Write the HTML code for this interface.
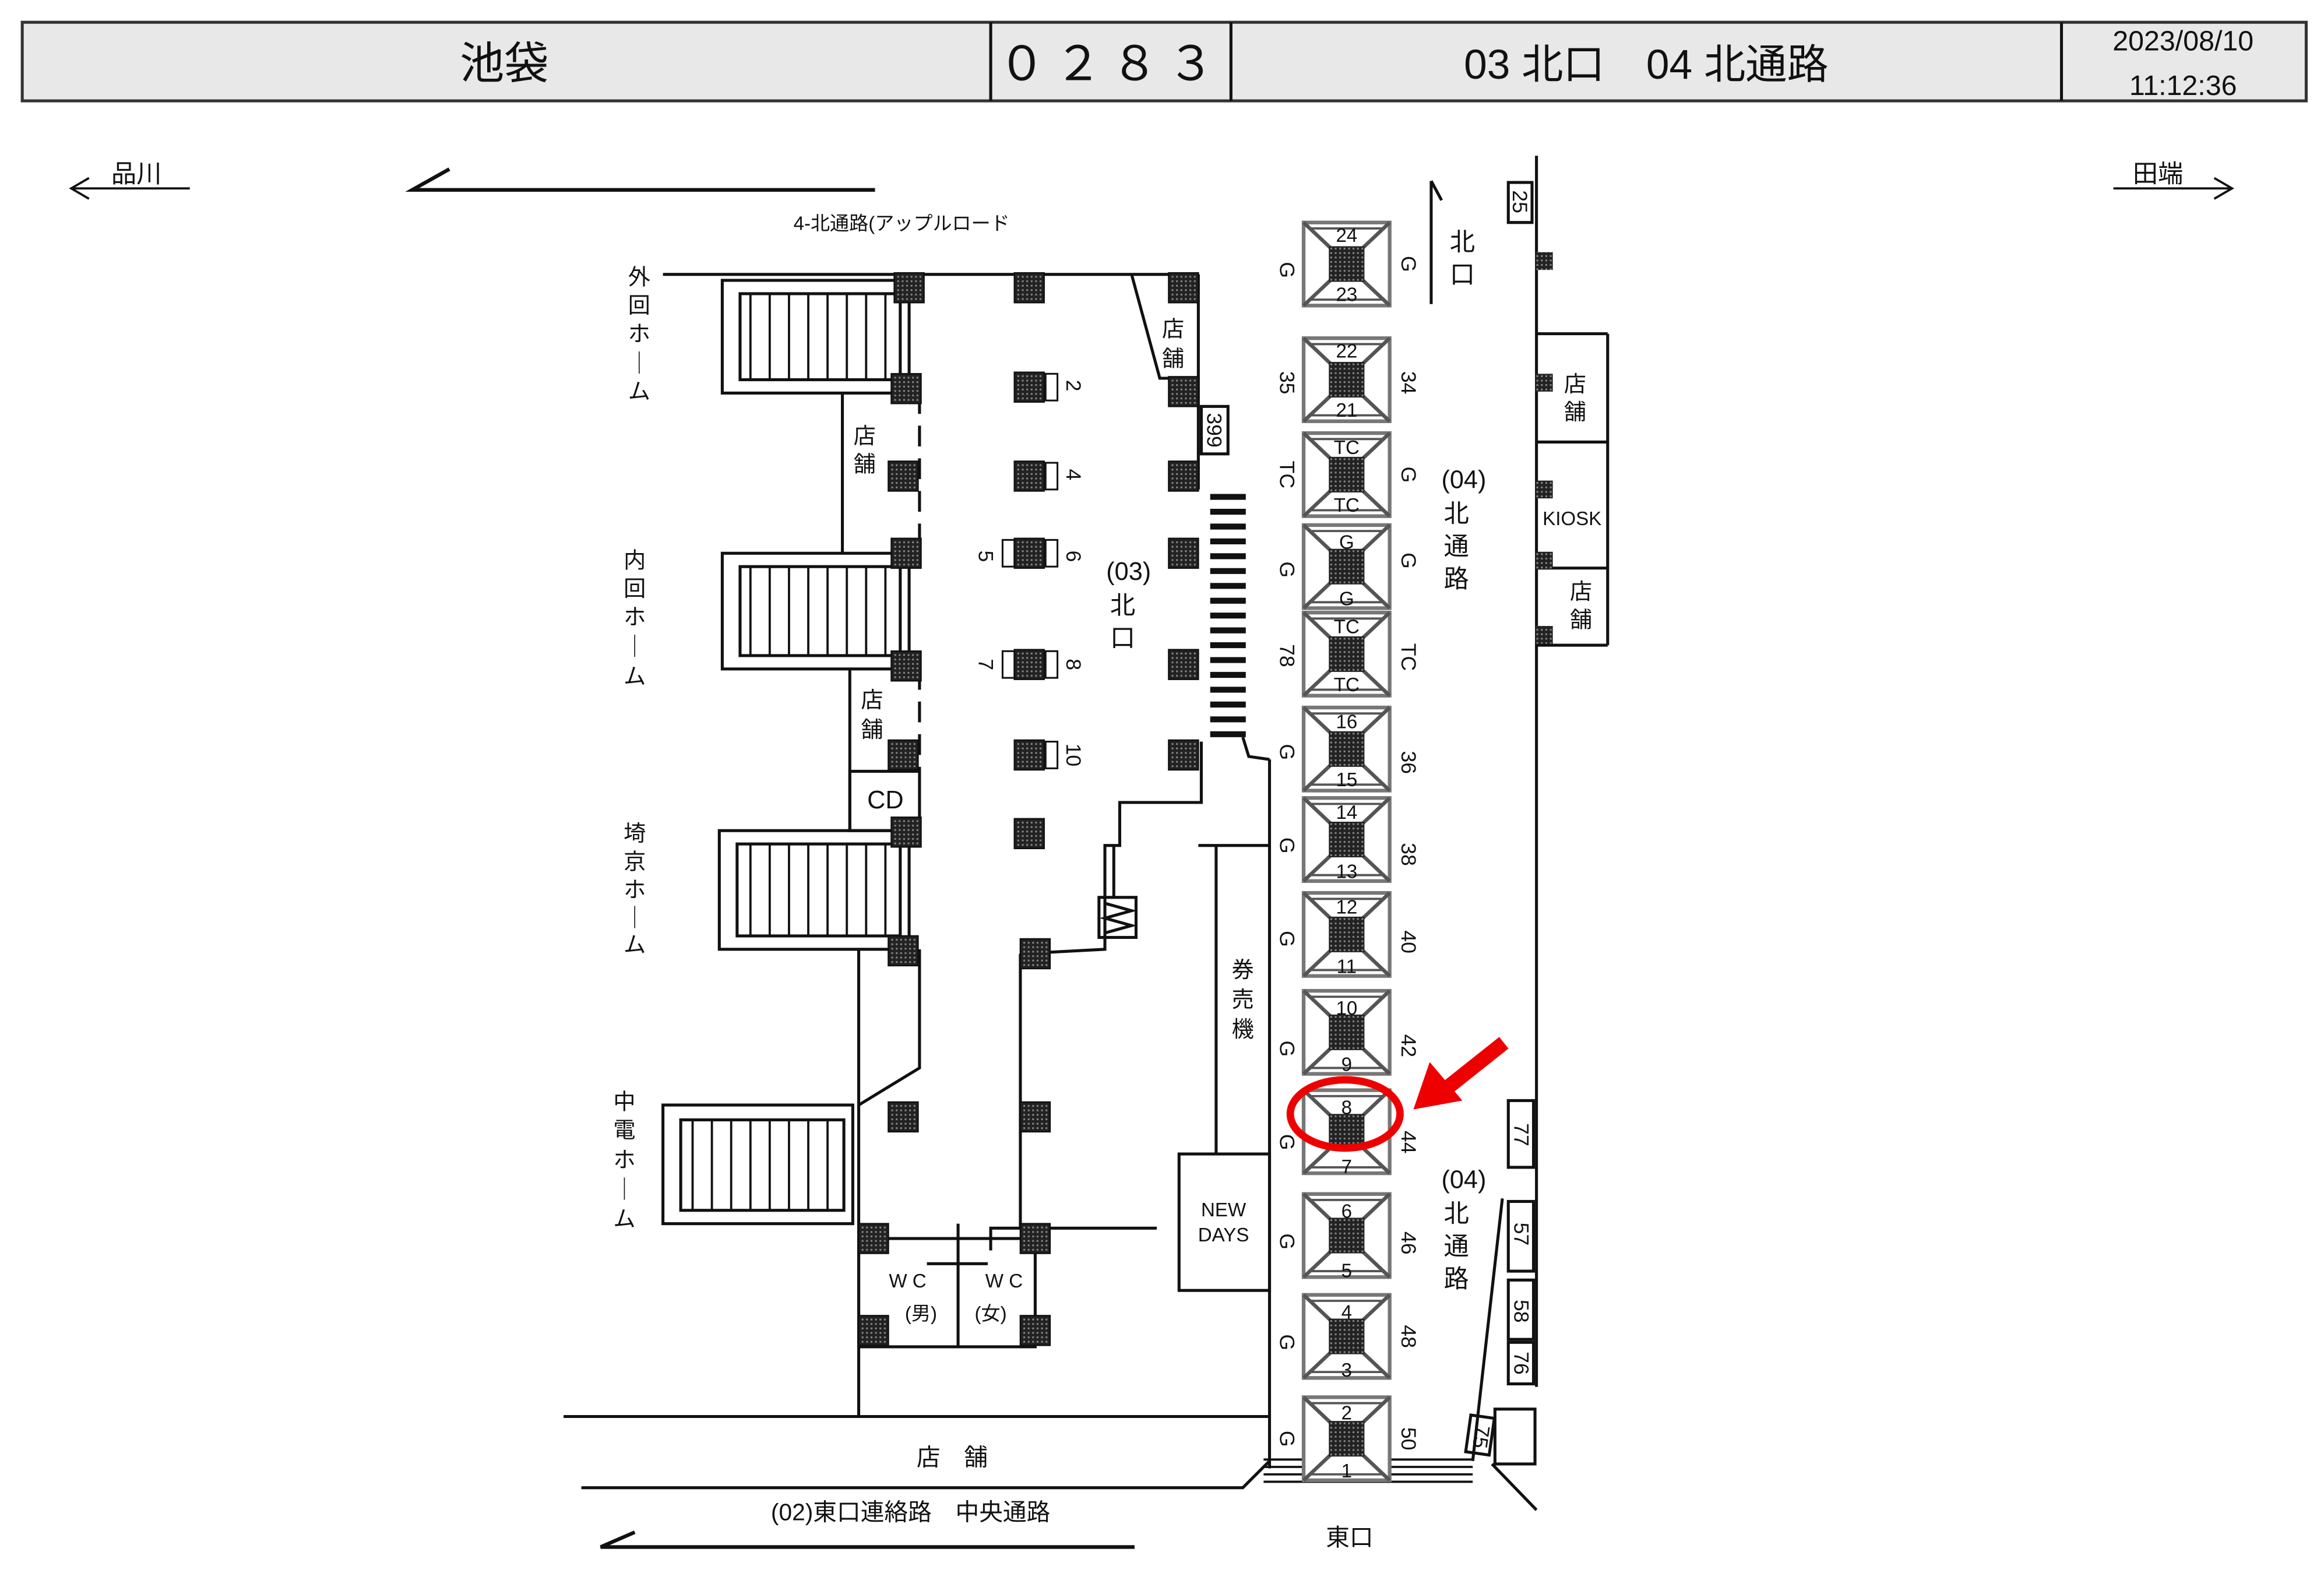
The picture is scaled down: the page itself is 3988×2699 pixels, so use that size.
<!DOCTYPE html>
<html><head><meta charset="utf-8"><style>
html,body{margin:0;padding:0;background:#fff}
svg{display:block}
text{font-family:"Liberation Sans","Noto Sans CJK JP",sans-serif;fill:#111}
</style></head><body>
<svg width="3988" height="2699" viewBox="0 0 1567 1060.5" xmlns="http://www.w3.org/2000/svg">
<defs>
<pattern id="dots" width="3" height="3" patternUnits="userSpaceOnUse"><rect width="3" height="3" fill="#222"/><rect x="1" y="1" width="1.2" height="1.2" fill="#888"/></pattern>
<pattern id="tread" width="13" height="10" patternUnits="userSpaceOnUse"><rect width="13" height="10" fill="#fff"/><line x1="12" y1="0" x2="12" y2="10" stroke="#111" stroke-width="1.5"/></pattern>
<g id="p"><rect x="-10" y="-10" width="20" height="20" fill="url(#dots)" stroke="#111" stroke-width="1"/></g>
<g id="gate">
<rect x="-29" y="-28" width="58" height="56" fill="#fff" stroke="#777" stroke-width="2.5"/>
<line x1="-29" y1="-28" x2="-11" y2="-11" stroke="#555" stroke-width="2.5"/>
<line x1="29" y1="-28" x2="11" y2="-11" stroke="#555" stroke-width="2.5"/>
<line x1="-29" y1="28" x2="-11" y2="11" stroke="#555" stroke-width="2.5"/>
<line x1="29" y1="28" x2="11" y2="11" stroke="#555" stroke-width="2.5"/>
<line x1="-26" y1="-24" x2="26" y2="-24" stroke="#555" stroke-width="1.5"/>
<line x1="-26" y1="24" x2="26" y2="24" stroke="#555" stroke-width="1.5"/>
<rect x="-12" y="-12" width="24" height="24" fill="url(#dots)"/>
</g>
</defs>
<g stroke="#111" fill="none" stroke-width="2">
<rect x="15" y="15" width="1540" height="53" fill="#e8e8e8" stroke="#333"/>
<line x1="668" y1="15" x2="668" y2="68"/><line x1="830" y1="15" x2="830" y2="68"/><line x1="1390" y1="15" x2="1390" y2="68"/>
<line x1="48" y1="127" x2="128" y2="127" stroke-width="1.5"/><polyline points="60,120 48,127 60,134" stroke-width="1.5"/>
<line x1="1425" y1="127" x2="1505" y2="127" stroke-width="1.5"/><polyline points="1493,120 1505,127 1493,134" stroke-width="1.5"/>
<polyline points="303,114 278,128 590,128" stroke-width="2.5"/>
<polyline points="428,1033 405,1043 765,1043" stroke-width="2.5"/>
<line x1="447" y1="185" x2="808" y2="185"/>
<line x1="808" y1="185" x2="808" y2="330"/>
<polyline points="763,185 782,255 800,255"/>
<rect x="487" y="189" width="126" height="76"/><rect x="499" y="198" width="108" height="58" fill="url(#tread)"/>
<rect x="487" y="373" width="126" height="78"/><rect x="499" y="382" width="108" height="60" fill="url(#tread)"/>
<rect x="485" y="560" width="128" height="80"/><rect x="497" y="569" width="110" height="62" fill="url(#tread)"/>
<rect x="447" y="745" width="128" height="80"/><rect x="459" y="755" width="110" height="61" fill="url(#tread)"/>
<line x1="568" y1="265" x2="568" y2="373"/>
<line x1="620" y1="265" x2="620" y2="373" stroke-dasharray="14,8"/>
<line x1="573" y1="451" x2="573" y2="560"/>
<line x1="620" y1="451" x2="620" y2="520" stroke-dasharray="14,8"/>
<rect x="573" y="520" width="47" height="40"/>
<line x1="579" y1="640" x2="579" y2="955"/>
<polyline points="620,640 620,720 579,745"/>
<rect x="579" y="835" width="119" height="73"/>
<line x1="646" y1="825" x2="646" y2="908"/>
<line x1="625" y1="852" x2="666" y2="852"/>
<polyline points="668,843 668,828 780,828"/>
<line x1="688" y1="643" x2="688" y2="828"/>
<polyline points="688,643 745,640 745,570 755,570 755,541 810,541 810,500"/>
<line x1="751" y1="570" x2="751" y2="605"/>
<rect x="741" y="605" width="25" height="27"/>
<polyline points="745,609 763,614 745,619 763,624 745,629"/>
<polyline points="838,497 842,510 856,512"/>
<line x1="808" y1="570" x2="856" y2="570"/>
<line x1="820" y1="570" x2="820" y2="778"/>
<rect x="795" y="778" width="61" height="92"/>
<line x1="856" y1="512" x2="856" y2="990"/>
<rect x="810" y="274" width="18" height="32"/>
<g stroke-width="4">
<line x1="816" y1="335" x2="840" y2="335"/><line x1="816" y1="345" x2="840" y2="345"/><line x1="816" y1="355" x2="840" y2="355"/><line x1="816" y1="365" x2="840" y2="365"/><line x1="816" y1="375" x2="840" y2="375"/><line x1="816" y1="385" x2="840" y2="385"/><line x1="816" y1="395" x2="840" y2="395"/><line x1="816" y1="405" x2="840" y2="405"/><line x1="816" y1="415" x2="840" y2="415"/><line x1="816" y1="425" x2="840" y2="425"/><line x1="816" y1="435" x2="840" y2="435"/><line x1="816" y1="445" x2="840" y2="445"/><line x1="816" y1="455" x2="840" y2="455"/><line x1="816" y1="465" x2="840" y2="465"/><line x1="816" y1="475" x2="840" y2="475"/><line x1="816" y1="485" x2="840" y2="485"/><line x1="816" y1="495" x2="840" y2="495"/>
</g>
<line x1="380" y1="955" x2="856" y2="955"/>
<polyline points="392,1003 838,1003 856,985"/>
<g stroke-width="1.5"><line x1="852" y1="984" x2="993" y2="984"/><line x1="852" y1="989" x2="993" y2="989"/><line x1="852" y1="994" x2="993" y2="994"/><line x1="852" y1="999" x2="993" y2="999"/></g>
<line x1="965" y1="122" x2="965" y2="205"/><line x1="965" y1="122" x2="972" y2="135"/>
<line x1="1036" y1="105" x2="1036" y2="935"/>
<line x1="1036" y1="225" x2="1084" y2="225"/><line x1="1084" y1="225" x2="1084" y2="435"/>
<line x1="1036" y1="298" x2="1084" y2="298"/><line x1="1036" y1="383" x2="1084" y2="383"/><line x1="1036" y1="435" x2="1084" y2="435"/>
<rect x="1017" y="123" width="16" height="27"/>
<rect x="1017" y="742" width="17" height="45"/>
<rect x="1017" y="810" width="17" height="47"/>
<rect x="1017" y="863" width="17" height="40"/>
<rect x="1017" y="905" width="17" height="28"/>
<line x1="1013" y1="808" x2="993" y2="985"/>
<rect x="990" y="955" width="16" height="25" transform="rotate(8 998 967)"/>
<rect x="1008" y="950" width="27" height="37"/>
<line x1="1006" y1="987" x2="1036" y2="1018"/>
</g>
<g>
<use href="#p" x="613" y="194"/><use href="#p" x="694" y="194"/><use href="#p" x="798" y="194"/>
<use href="#p" x="611" y="262"/><use href="#p" x="694" y="261"/><use href="#p" x="798" y="264"/>
<use href="#p" x="609" y="321"/><use href="#p" x="694" y="321"/><use href="#p" x="798" y="321"/>
<use href="#p" x="611" y="373"/><use href="#p" x="694" y="373"/><use href="#p" x="798" y="373"/>
<use href="#p" x="611" y="449"/><use href="#p" x="694" y="448"/><use href="#p" x="798" y="448"/>
<use href="#p" x="609" y="509"/><use href="#p" x="694" y="509"/><use href="#p" x="798" y="509"/>
<use href="#p" x="611" y="561"/><use href="#p" x="694" y="562"/>
<use href="#p" x="609" y="641"/><use href="#p" x="698" y="643"/>
<use href="#p" x="609" y="753"/><use href="#p" x="698" y="753"/>
<use href="#p" x="589" y="835"/><use href="#p" x="698" y="835"/>
<use href="#p" x="589" y="897"/><use href="#p" x="698" y="897"/>
<rect x="1035" y="170" width="12" height="12" fill="url(#dots)"/>
<rect x="1035" y="252" width="12" height="12" fill="url(#dots)"/>
<rect x="1035" y="324" width="12" height="12" fill="url(#dots)"/>
<rect x="1035" y="372" width="12" height="12" fill="url(#dots)"/>
<rect x="1035" y="422" width="12" height="12" fill="url(#dots)"/>
</g>
<g fill="none" stroke="#111" stroke-width="1.2">
<rect x="705" y="252" width="8" height="18"/><rect x="705" y="312" width="8" height="18"/>
<rect x="676" y="364" width="8" height="18"/><rect x="705" y="364" width="8" height="18"/>
<rect x="676" y="439" width="8" height="18"/><rect x="705" y="439" width="8" height="18"/>
<rect x="705" y="500" width="8" height="18"/>
</g>
<g>
<use href="#gate" x="908" y="178"/><use href="#gate" x="908" y="256"/><use href="#gate" x="908" y="320"/>
<use href="#gate" x="908" y="382"/><use href="#gate" x="908" y="441"/><use href="#gate" x="908" y="505"/>
<use href="#gate" x="908" y="566"/><use href="#gate" x="908" y="630"/><use href="#gate" x="908" y="696"/>
<use href="#gate" x="908" y="763"/><use href="#gate" x="908" y="833"/><use href="#gate" x="908" y="901"/>
<use href="#gate" x="908" y="970"/>
</g>
<g font-size="13" text-anchor="middle">
<text x="908" y="163" fill="#999">24</text><text x="908" y="203" fill="#999">23</text>
<text x="908" y="241" fill="#999">22</text><text x="908" y="281" fill="#999">21</text>
<text x="908" y="306">TC</text><text x="908" y="345">TC</text>
<text x="908" y="370">G</text><text x="908" y="408">G</text>
<text x="908" y="427">TC</text><text x="908" y="466">TC</text>
<text x="908" y="491" fill="#666">16</text><text x="908" y="530" fill="#666">15</text>
<text x="908" y="552" fill="#666">14</text><text x="908" y="592" fill="#666">13</text>
<text x="908" y="616" fill="#666">12</text><text x="908" y="656" fill="#666">11</text>
<text x="908" y="684">10</text><text x="908" y="722">9</text>
<text x="908" y="751">8</text><text x="908" y="791">7</text>
<text x="908" y="821">6</text><text x="908" y="861">5</text>
<text x="908" y="889">4</text><text x="908" y="928">3</text>
<text x="908" y="957">2</text><text x="908" y="996">1</text>
</g>
<g font-size="14" text-anchor="middle">
<text transform="translate(863,182) rotate(90)">G</text><text transform="translate(945,178) rotate(90)">G</text>
<text transform="translate(863,258) rotate(90)">35</text><text transform="translate(945,258) rotate(90)">34</text>
<text transform="translate(863,320) rotate(90)">TC</text><text transform="translate(945,320) rotate(90)">G</text>
<text transform="translate(863,384) rotate(90)">G</text><text transform="translate(945,378) rotate(90)">G</text>
<text transform="translate(863,442) rotate(90)">78</text><text transform="translate(945,443) rotate(90)">TC</text>
<text transform="translate(863,507) rotate(90)">G</text><text transform="translate(945,514) rotate(90)">36</text>
<text transform="translate(863,570) rotate(90)">G</text><text transform="translate(945,576) rotate(90)">38</text>
<text transform="translate(863,633) rotate(90)">G</text><text transform="translate(945,635) rotate(90)">40</text>
<text transform="translate(863,707) rotate(90)">G</text><text transform="translate(945,705) rotate(90)">42</text>
<text transform="translate(863,770) rotate(90)">G</text><text transform="translate(945,770) rotate(90)">44</text>
<text transform="translate(863,837) rotate(90)">G</text><text transform="translate(945,838) rotate(90)">46</text>
<text transform="translate(863,905) rotate(90)">G</text><text transform="translate(945,901) rotate(90)">48</text>
<text transform="translate(863,970) rotate(90)">G</text><text transform="translate(945,970) rotate(90)">50</text>
<text transform="translate(719,260) rotate(90)">2</text><text transform="translate(719,320) rotate(90)">4</text>
<text transform="translate(660,375) rotate(90)">5</text><text transform="translate(719,375) rotate(90)">6</text>
<text transform="translate(660,448) rotate(90)">7</text><text transform="translate(719,448) rotate(90)">8</text>
<text transform="translate(719,509) rotate(90)">10</text>
<text transform="translate(814,290) rotate(90)">399</text>
<text transform="translate(1020,136) rotate(90)">25</text>
<text transform="translate(1021,765) rotate(90)">77</text>
<text transform="translate(1021,832) rotate(90)">57</text>
<text transform="translate(1021,884) rotate(90)">58</text>
<text transform="translate(1021,919) rotate(90)">76</text>
<text transform="translate(994,968) rotate(98)">75</text>
</g>
<text x="340" y="53" font-size="30" text-anchor="middle">池袋</text>
<text x="749" y="54" font-size="32" text-anchor="middle" letter-spacing="6">０２８３</text>
<text x="1110" y="53" font-size="28" text-anchor="middle">03 北口　04 北通路</text>
<text x="1472" y="34" font-size="19" text-anchor="middle">2023/08/10</text>
<text x="1472" y="64" font-size="19" text-anchor="middle">11:12:36</text>
<g font-size="17">
<text x="75" y="123">品川</text><text x="1438" y="123">田端</text>
</g>
<g font-size="13"><text x="535" y="155">4-北通路(アップルロード</text></g>
<g font-size="15" text-anchor="middle">
<text x="431" y="192">外</text><text x="431" y="211">回</text><text x="431" y="230">ホ</text><text x="431" y="250">｜</text><text x="431" y="269">ム</text>
<text x="428" y="383">内</text><text x="428" y="402">回</text><text x="428" y="421">ホ</text><text x="428" y="441">｜</text><text x="428" y="461">ム</text>
<text x="428" y="567">埼</text><text x="428" y="586">京</text><text x="428" y="605">ホ</text><text x="428" y="624">｜</text><text x="428" y="642">ム</text>
<text x="421" y="748">中</text><text x="421" y="767">電</text><text x="421" y="787">ホ</text><text x="421" y="807">｜</text><text x="421" y="827">ム</text>
<text x="583" y="299">店</text><text x="583" y="318">舗</text>
<text x="588" y="477">店</text><text x="588" y="497">舗</text>
<text x="791" y="227">店</text><text x="791" y="247">舗</text>
<text x="1062" y="264">店</text><text x="1062" y="283">舗</text>
<text x="1066" y="404">店</text><text x="1066" y="423">舗</text>
<text x="838" y="659">券</text><text x="838" y="679">売</text><text x="838" y="699">機</text>
</g>
<g font-size="17" text-anchor="middle">
<text x="986" y="169">北</text><text x="986" y="191">口</text>
<text x="987" y="329">(04)</text><text x="982" y="352">北</text><text x="982" y="374">通</text><text x="982" y="396">路</text>
<text x="987" y="801">(04)</text><text x="982" y="824">北</text><text x="982" y="846">通</text><text x="982" y="868">路</text>
<text x="761" y="391">(03)</text><text x="757" y="414">北</text><text x="757" y="436">口</text>
<text x="597" y="545">CD</text>
</g>
<g font-size="13" text-anchor="middle">
<text x="1060" y="354">KIOSK</text>
<text x="825" y="820">NEW</text><text x="825" y="837">DAYS</text>
<text x="612" y="868">W C</text><text x="621" y="890">(男)</text>
<text x="677" y="868">W C</text><text x="668" y="890">(女)</text>
</g>
<g font-size="16" text-anchor="middle">
<text x="642" y="988">店　舗</text>
<text x="614" y="1025">(02)東口連絡路　中央通路</text>
<text x="910" y="1042">東口</text>
</g>
<ellipse cx="907" cy="751" rx="37" ry="23" fill="none" stroke="#e00" stroke-width="5"/>
<line x1="1014" y1="703" x2="970" y2="738" stroke="#e00" stroke-width="10"/>
<polygon points="953,748 964,716 986,742" fill="#e00"/>
</svg>
</body></html>
